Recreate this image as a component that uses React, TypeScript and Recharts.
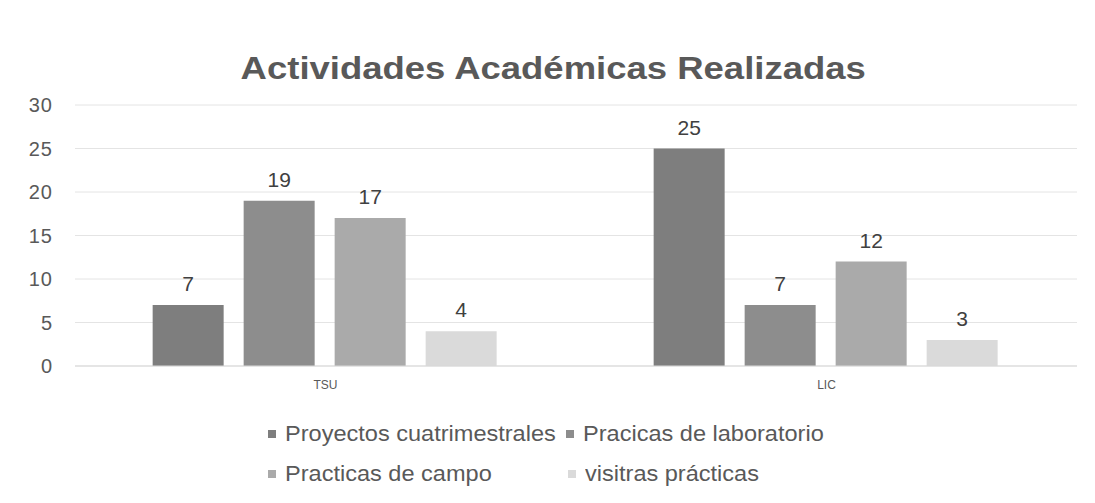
import React from 'react';
import { BarChart, Bar, XAxis, YAxis, CartesianGrid, Legend, LabelList } from 'recharts';

const categories = ['TSU', 'LIC'];
const proyectos = [7, 25];
const laboratorio = [19, 7];
const campo = [17, 12];
const visitas = [4, 3];
const yTicks = [0, 5, 10, 15, 20, 25, 30];

const series = [
  { key: 'proyectos', name: 'Proyectos cuatrimestrales', color: '#7e7e7e' },
  { key: 'laboratorio', name: 'Pracicas de laboratorio', color: '#8d8d8d' },
  { key: 'campo', name: 'Practicas de campo', color: '#aaaaaa' },
  { key: 'visitas', name: 'visitras prácticas', color: '#dadada' },
];

const data = categories.map((cat, i) => ({
  cat,
  proyectos: proyectos[i],
  laboratorio: laboratorio[i],
  campo: campo[i],
  visitas: visitas[i],
}));

const font = '"Liberation Sans", Arial, sans-serif';

// the scanned original is a bit stretched sideways, so text gets a scaleX
const LegendItem = ({ name, color, left }: { name: string; color: string; left: number }) => (
  <div style={{ position: 'absolute', left, top: 0, display: 'flex', alignItems: 'center', whiteSpace: 'nowrap' }}>
    <span style={{ width: 8, height: 8, background: color, display: 'inline-block', marginRight: 9 }} />
    <span style={{ display: 'inline-block', transform: 'scaleX(1.07)', transformOrigin: 'left center' }}>{name}</span>
  </div>
);

const renderLegend = () => (
  <div style={{ position: 'relative', height: 90, fontFamily: font, fontSize: 22, color: '#595959' }}>
    <div style={{ position: 'absolute', top: 25, left: 0, width: '100%', height: 30 }}>
      <LegendItem name={series[0].name} color={series[0].color} left={268} />
      <LegendItem name={series[1].name} color={series[1].color} left={566} />
    </div>
    <div style={{ position: 'absolute', top: 65, left: 0, width: '100%', height: 30 }}>
      <LegendItem name={series[2].name} color={series[2].color} left={268} />
      <LegendItem name={series[3].name} color={series[3].color} left={568} />
    </div>
  </div>
);

export default function App() {
  return (
    <div style={{ position: 'absolute', left: 0, top: 0, width: 1095, height: 503, background: '#fff', fontFamily: font }}>
      <div style={{ position: 'absolute', top: 50, left: 0, width: 1106, textAlign: 'center' }}>
        <span style={{ display: 'inline-block', transform: 'scaleX(1.14)', fontSize: 32, fontWeight: 'bold', color: '#595959' }}>
          Actividades Académicas Realizadas
        </span>
      </div>
      <BarChart
        width={1095}
        height={503}
        data={data}
        margin={{ top: 105, right: 18, left: 0, bottom: 17 }}
        barGap={20}
        barCategoryGap="15.5%"
      >
        <CartesianGrid vertical={false} stroke="#e4e4e4" />
        <XAxis
          dataKey="cat"
          height={30}
          axisLine={{ stroke: '#d9d9d9' }}
          tickLine={false}
          tick={{ fontSize: 12, fill: '#595959' }}
          tickMargin={8}
        />
        <YAxis
          width={75}
          domain={[0, 30]}
          ticks={yTicks}
          axisLine={false}
          tickLine={false}
          tickSize={0}
          tickMargin={22}
          tick={{ fontSize: 20, fill: '#595959', letterSpacing: 1 }}
        />
        <Legend verticalAlign="bottom" content={renderLegend} wrapperStyle={{ height: 90 }} />
        {series.map((s) => (
          <Bar key={s.key} dataKey={s.key} name={s.name} fill={s.color} isAnimationActive={false}>
            <LabelList dataKey={s.key} position="top" offset={14} fill="#404040" fontSize={21} />
          </Bar>
        ))}
      </BarChart>
    </div>
  );
}
